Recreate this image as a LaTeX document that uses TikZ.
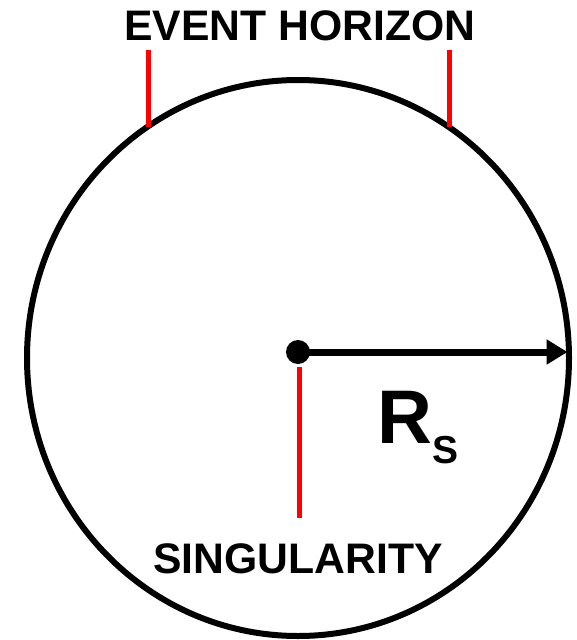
\documentclass[tikz,border=0pt]{standalone}
\usepackage{fontspec}
\setmainfont{Liberation Sans}
\usetikzlibrary{shapes.geometric,arrows.meta}
\definecolor{hred}{RGB}{255,0,0}
\tikzset{
  lbl/.style={inner sep=0pt, outer sep=0pt, font=\fontsize{42.7}{46}\selectfont\bfseries, anchor=base},
  redmark/.style={draw=hred, line width=5pt},
  horizon/.style={draw=black, ellipse, line width=6pt, inner sep=0pt, outer sep=0pt, minimum width=542pt, minimum height=556pt},
  radius arrow/.style={line width=7pt, -{Triangle[length=21pt,width=24pt]}}
}
\begin{document}
\begin{tikzpicture}[x=1pt,y=-1pt]
\useasboundingbox (0,0) rectangle (576,640);
\node[horizon] (eh) at (298,358) {};
\node[lbl] (ehlabel) at (300,40.5) {EVENT HORIZON};
\node[lbl] (sing) at (298,573) {SINGULARITY};
\coordinate (l1) at (148,50);
\coordinate (l1e) at (148,126.5);
\coordinate (r1) at (449.5,50);
\coordinate (r1e) at (449.5,126.5);
\draw[redmark] (l1) -- (l1e);
\draw[redmark] (r1) -- (r1e);
\node[circle, fill=black, minimum size=24pt, inner sep=0pt] (dot) at (298,352) {};
\coordinate (tip) at (567.5,352);
\draw[radius arrow] (dot.center) -- (tip);
\coordinate (s1) at (299,367);
\coordinate (s2) at (299,518);
\draw[redmark] (s1) -- (s2);
\node[inner sep=0pt, anchor=base west, font=\bfseries] (rs) at (377.5,443)
  {\fontsize{76}{80}\selectfont R\fontsize{39}{40}\selectfont\raisebox{-20pt}{S}};
\end{tikzpicture}
\end{document}
